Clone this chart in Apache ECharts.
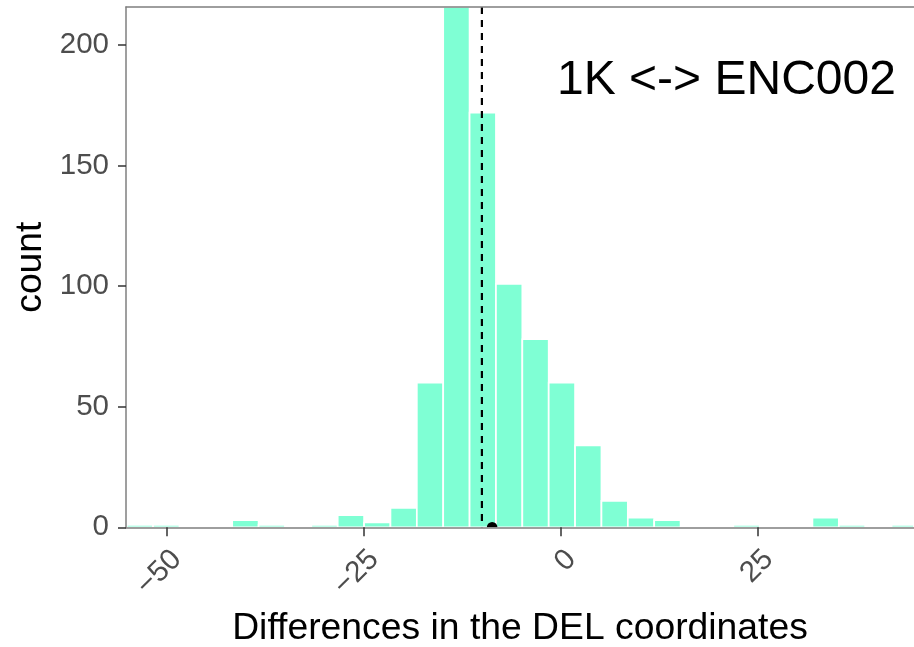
<!DOCTYPE html>
<html><head><meta charset="utf-8">
<script src="https://cdn.jsdelivr.net/npm/echarts@6/dist/echarts.min.js"></script>
<style>html,body{margin:0;padding:0;background:#fff}#c{width:914px;height:647px}</style>
</head><body><div id="c"></div>
<script>
// ---- data ----
const binStart = -55.02;
const binWidth = 3.343;
const counts = [1, 1, 0, 0, 3, 1, 0, 1, 5, 2, 8, 60, 250, 172, 101, 78, 60, 34, 11, 4, 3, 0, 0, 1, 0, 0, 4, 1, 0, 1];
const xTicks = [-50, -25, 0, 25];
const yTicks = [0, 50, 100, 150, 200];
const xRange = [-55.11, 44.77];
const yRange = [0, 215.8];
const vlineX = -10;
const pointX = -8.7;
const annotationText = '1K <-> ENC002';
const annotationPos = [21, 185];
const xTitle = 'Differences in the DEL coordinates';
const yTitle = 'count';

const FONT = '"Liberation Sans", Arial, Helvetica, sans-serif';
const bins = counts.map((c, i) => [binStart + i * binWidth, binStart + (i + 1) * binWidth, c]);

const chart = echarts.init(document.getElementById('c'), null, {renderer: 'canvas'});
const axisLineStyle = {color: '#7f7f7f', width: 1.5};
const fmt = v => v < 0 ? '\u2212' + Math.abs(v) : String(v);

chart.setOption({
  animation: false,
  backgroundColor: '#fff',
  grid: {left: 126, right: 0, top: 7, bottom: 119.7, containLabel: false, outerBoundsMode: 'none'},
  xAxis: [{
    type: 'value', min: xRange[0], max: xRange[1], position: 'bottom', z: 10,
    axisLine: {show: true, onZero: false, lineStyle: axisLineStyle},
    axisTick: {show: true, length: 9, customValues: xTicks, lineStyle: {color: '#333', width: 1.5}},
    axisLabel: {customValues: xTicks, rotate: 45, margin: 17, verticalAlign: 'top',
      color: '#4d4d4d', fontSize: 29.5, fontFamily: FONT, formatter: fmt},
    splitLine: {show: false},
    name: xTitle, nameLocation: 'middle', nameGap: 83,
    nameTextStyle: {fontSize: 37.3, color: '#000', fontFamily: FONT}
  }, {
    type: 'value', min: xRange[0], max: xRange[1], position: 'top', z: 10,
    axisLine: {show: true, onZero: false, lineStyle: axisLineStyle},
    axisTick: {show: false}, axisLabel: {show: false}, splitLine: {show: false}
  }],
  yAxis: {
    type: 'value', min: yRange[0], max: yRange[1], z: 10,
    axisLine: {show: true, onZero: false, lineStyle: axisLineStyle},
    axisTick: {show: true, length: 8, customValues: yTicks, lineStyle: {color: '#333', width: 1.5}},
    axisLabel: {customValues: yTicks, margin: 17, color: '#4d4d4d', fontSize: 29.5, fontFamily: FONT},
    splitLine: {show: false},
    name: yTitle, nameLocation: 'middle', nameRotate: 90, nameGap: 75,
    nameTextStyle: {fontSize: 37.3, color: '#000', fontFamily: FONT}
  },
  series: [{
    type: 'custom',
    xAxisIndex: 0,
    data: bins,
    encode: {x: [0, 1], y: 2},
    renderItem: function (params, api) {
      const c = api.value(2);
      if (!c) return;
      const p0 = api.coord([api.value(0), 0]);
      const p1 = api.coord([api.value(1), c]);
      const cs = params.coordSys;
      const rect = echarts.graphic.clipRectByRect(
        {x: p0[0], y: p1[1], width: p1[0] - p0[0], height: p0[1] - p1[1]},
        {x: cs.x, y: cs.y, width: cs.width, height: cs.height});
      if (!rect) return;
      return {type: 'rect', shape: rect, style: {fill: '#7FFFD4', stroke: '#ffffff', lineWidth: 1.7}};
    },
    z: 2
  }, {
    type: 'line',
    xAxisIndex: 0,
    data: [[vlineX, yRange[1]], [vlineX, 0]],
    symbol: 'none',
    lineStyle: {color: '#000', width: 2.2, type: [7, 6]},
    z: 4
  }, {
    type: 'custom',
    xAxisIndex: 0,
    data: [[pointX, 0]],
    renderItem: function (params, api) {
      const p = api.coord([api.value(0), api.value(1)]);
      return {type: 'sector', shape: {cx: p[0], cy: p[1], r0: 0, r: 5.3, startAngle: Math.PI, endAngle: 2 * Math.PI, clockwise: true},
        style: {fill: '#000'}};
    },
    z: 5
  }, {
    type: 'custom',
    xAxisIndex: 0,
    data: [annotationPos],
    renderItem: function (params, api) {
      const p = api.coord([api.value(0), api.value(1)]);
      return {type: 'text', x: p[0], y: p[1],
        style: {text: annotationText, fill: '#000', fontSize: 48, fontFamily: FONT, align: 'center', verticalAlign: 'middle'}};
    },
    z: 6
  }]
});
</script>
</body></html>
